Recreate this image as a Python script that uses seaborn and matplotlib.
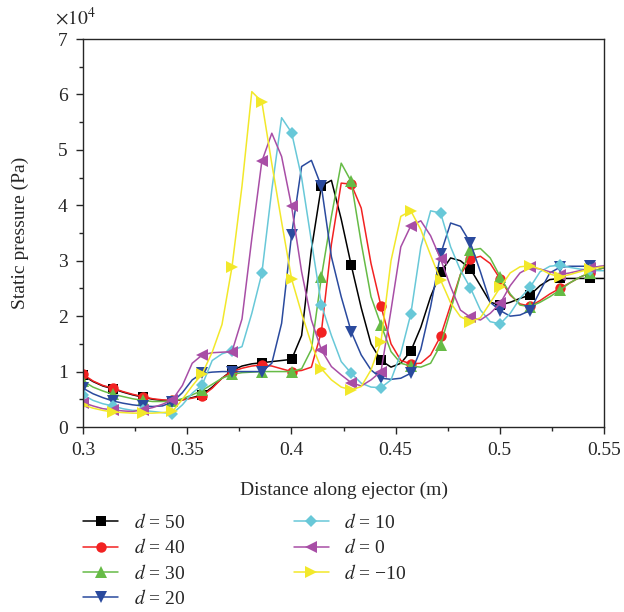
import matplotlib
matplotlib.use("Agg")
import matplotlib.pyplot as plt
import seaborn as sns
from matplotlib.ticker import MultipleLocator, FuncFormatter

sns.set_style("ticks")
plt.rcParams["font.family"] = ["Liberation Serif", "DejaVu Serif"]
plt.rcParams["mathtext.fontset"] = "stix"

# Axial positions of the sampled profile (m)
distance = [
    0.3000, 0.3048, 0.3095, 0.3143, 0.3191, 0.3238, 0.3286, 0.3334, 0.3381, 0.3429,
    0.3477, 0.3524, 0.3572, 0.3620, 0.3667, 0.3715, 0.3763, 0.3810, 0.3858, 0.3906,
    0.3953, 0.4001, 0.4049, 0.4096, 0.4144, 0.4192, 0.4239, 0.4287, 0.4335, 0.4382,
    0.4430, 0.4478, 0.4525, 0.4573, 0.4621, 0.4668, 0.4716, 0.4764, 0.4811, 0.4859,
    0.4907, 0.4954, 0.5002, 0.5050, 0.5097, 0.5145, 0.5193, 0.5240, 0.5288, 0.5336,
    0.5383, 0.5431, 0.5479, 0.5526,
]

# Static pressure along the ejector, in units of 1e4 Pa
p_d50 = [
    0.93, 0.82, 0.74, 0.69, 0.63, 0.58, 0.54, 0.50, 0.48, 0.47,
    0.49, 0.53, 0.58, 0.72, 0.88, 1.02, 1.10, 1.14, 1.16, 1.18,
    1.20, 1.22, 1.65, 3.20, 4.35, 4.45, 3.75, 2.92, 2.15, 1.50,
    1.20, 1.08, 1.15, 1.37, 1.80, 2.35, 2.79, 3.05, 3.00, 2.85,
    2.55, 2.25, 2.20, 2.25, 2.32, 2.38, 2.55, 2.66, 2.68, 2.68,
    2.68, 2.68, 2.68, 2.68,
]
p_d40 = [
    0.95, 0.83, 0.75, 0.70, 0.64, 0.59, 0.55, 0.51, 0.49, 0.48,
    0.49, 0.52, 0.56, 0.70, 0.88, 1.00, 1.06, 1.10, 1.12, 1.10,
    1.05, 1.00, 1.02, 1.08, 1.72, 3.30, 4.40, 4.38, 3.95, 2.95,
    2.18, 1.50, 1.20, 1.14, 1.15, 1.30, 1.64, 2.20, 2.75, 3.03,
    3.08, 2.95, 2.67, 2.38, 2.22, 2.18, 2.28, 2.40, 2.50, 2.60,
    2.70, 2.78, 2.85, 2.90,
]
p_d30 = [
    0.83, 0.72, 0.65, 0.59, 0.55, 0.51, 0.48, 0.46, 0.46, 0.47,
    0.51, 0.58, 0.66, 0.77, 0.88, 0.95, 0.98, 0.99, 1.00, 1.00,
    1.00, 1.00, 1.05, 1.40, 2.71, 3.80, 4.76, 4.43, 3.32, 2.35,
    1.84, 1.36, 1.15, 1.10, 1.08, 1.15, 1.48, 2.10, 2.75, 3.19,
    3.22, 3.05, 2.71, 2.40, 2.20, 2.17, 2.25, 2.35, 2.47, 2.60,
    2.70, 2.78, 2.85, 2.90,
]
p_d20 = [
    0.70, 0.60, 0.53, 0.47, 0.43, 0.40, 0.38, 0.37, 0.38, 0.45,
    0.62, 0.85, 0.97, 0.99, 1.00, 1.00, 1.00, 1.00, 1.00, 1.15,
    1.87, 3.47, 4.70, 4.81, 4.34, 3.07, 2.35, 1.72, 1.30, 1.03,
    0.88, 0.86, 0.88, 0.97, 1.40, 2.17, 3.12, 3.68, 3.62, 3.32,
    2.80, 2.25, 2.10, 2.00, 2.02, 2.10, 2.45, 2.78, 2.88, 2.90,
    2.90, 2.90, 2.88, 2.88,
]
p_d10 = [
    0.58, 0.48, 0.42, 0.38, 0.33, 0.30, 0.30, 0.28, 0.26, 0.24,
    0.40, 0.61, 0.76, 1.20, 1.32, 1.38, 1.45, 2.05, 2.77, 4.28,
    5.58, 5.31, 4.50, 3.35, 2.20, 1.65, 1.18, 0.97, 0.79, 0.72,
    0.71, 0.85, 1.33, 2.04, 3.25, 3.90, 3.86, 3.25, 2.83, 2.51,
    2.11, 1.90, 1.86, 2.05, 2.32, 2.52, 2.80, 2.90, 2.92, 2.88,
    2.85, 2.83, 2.82, 2.82,
]
p_d0 = [
    0.44, 0.38, 0.33, 0.31, 0.29, 0.28, 0.31, 0.35, 0.41, 0.49,
    0.75, 1.15, 1.30, 1.34, 1.35, 1.36, 1.95, 3.40, 4.79, 5.30,
    4.88, 3.98, 2.80, 1.93, 1.39, 1.09, 0.94, 0.80, 0.74, 0.85,
    1.00, 2.11, 3.25, 3.63, 3.72, 3.45, 3.03, 2.53, 2.11, 1.98,
    1.93, 2.05, 2.23, 2.55, 2.78, 2.88, 2.85, 2.80, 2.75, 2.78,
    2.82, 2.86, 2.90, 2.92,
]
p_dm10 = [
    0.40, 0.34, 0.30, 0.27, 0.26, 0.25, 0.25, 0.25, 0.26, 0.28,
    0.50, 0.74, 0.96, 1.35, 1.85, 2.89, 4.35, 6.05, 5.87, 4.75,
    3.70, 2.67, 2.05, 1.50, 1.05, 0.85, 0.72, 0.67, 0.73, 1.03,
    1.54, 3.00, 3.80, 3.90, 3.56, 3.10, 2.65, 2.24, 1.99, 1.90,
    1.97, 2.24, 2.52, 2.78, 2.89, 2.91, 2.85, 2.76, 2.71, 2.75,
    2.80, 2.85, 2.88, 2.90,
]

series = [p_d50, p_d40, p_d30, p_d20, p_d10, p_d0, p_dm10]
d_labels = ["50", "40", "30", "20", "10", "0", "\u221210"]
colors = ["#000000", "#f22222", "#66bb46", "#2a4a9e", "#68c8d8", "#a84ea6", "#f2e82a"]
markers = ["s", "o", "^", "v", "D", "<", ">"]
msizes = [6.5, 7.5, 8.5, 8.5, 6.5, 8.5, 8.5]

fig = plt.figure(figsize=(6.24, 6.12), dpi=100)
ax = fig.add_axes([83 / 624, 1 - 427 / 612, 521 / 624, 388 / 612])

for vals, lab, col, mk, ms in zip(series, d_labels, colors, markers, msizes):
    sns.lineplot(
        x=distance, y=vals, ax=ax, color=col, marker=mk, markersize=ms,
        markevery=3, markeredgewidth=0, linewidth=1.1, sort=False,
        errorbar=None, label=f"$d$ = {lab}",
    )

ax.set_xlim(0.3, 0.55)
ax.set_ylim(0, 7)
ax.xaxis.set_major_locator(MultipleLocator(0.05))
ax.xaxis.set_minor_locator(MultipleLocator(0.025))
ax.yaxis.set_major_locator(MultipleLocator(1))
ax.yaxis.set_minor_locator(MultipleLocator(0.5))
ax.xaxis.set_major_formatter(FuncFormatter(lambda v, p: f"{v:g}"))
ax.yaxis.set_major_formatter(FuncFormatter(lambda v, p: f"{v:g}"))
ax.tick_params(which="major", direction="out", length=5, width=1.0, labelsize=14, pad=6)
ax.tick_params(which="minor", direction="out", length=3, width=1.0)
for sp in ax.spines.values():
    sp.set_linewidth(1.0)

ax.set_xlabel("Distance along ejector (m)", fontsize=14, labelpad=16)
ax.set_ylabel("Static pressure (Pa)", fontsize=14, labelpad=21)
fig.text(55 / 624, 1 - 25 / 612, r"$\times10^{4}$", fontsize=14, ha="left", va="baseline")

handles, labels = ax.get_legend_handles_labels()
ax.get_legend().remove()
fig.legend(
    handles, labels, ncol=2, loc="upper left", bbox_to_anchor=(83 / 624, 1 - 513 / 612),
    frameon=False, fontsize=14, handlelength=1.8, handletextpad=0.8,
    columnspacing=5.6, labelspacing=0.33, borderpad=0, borderaxespad=0,
)

fig.savefig("out.png", dpi=100)
